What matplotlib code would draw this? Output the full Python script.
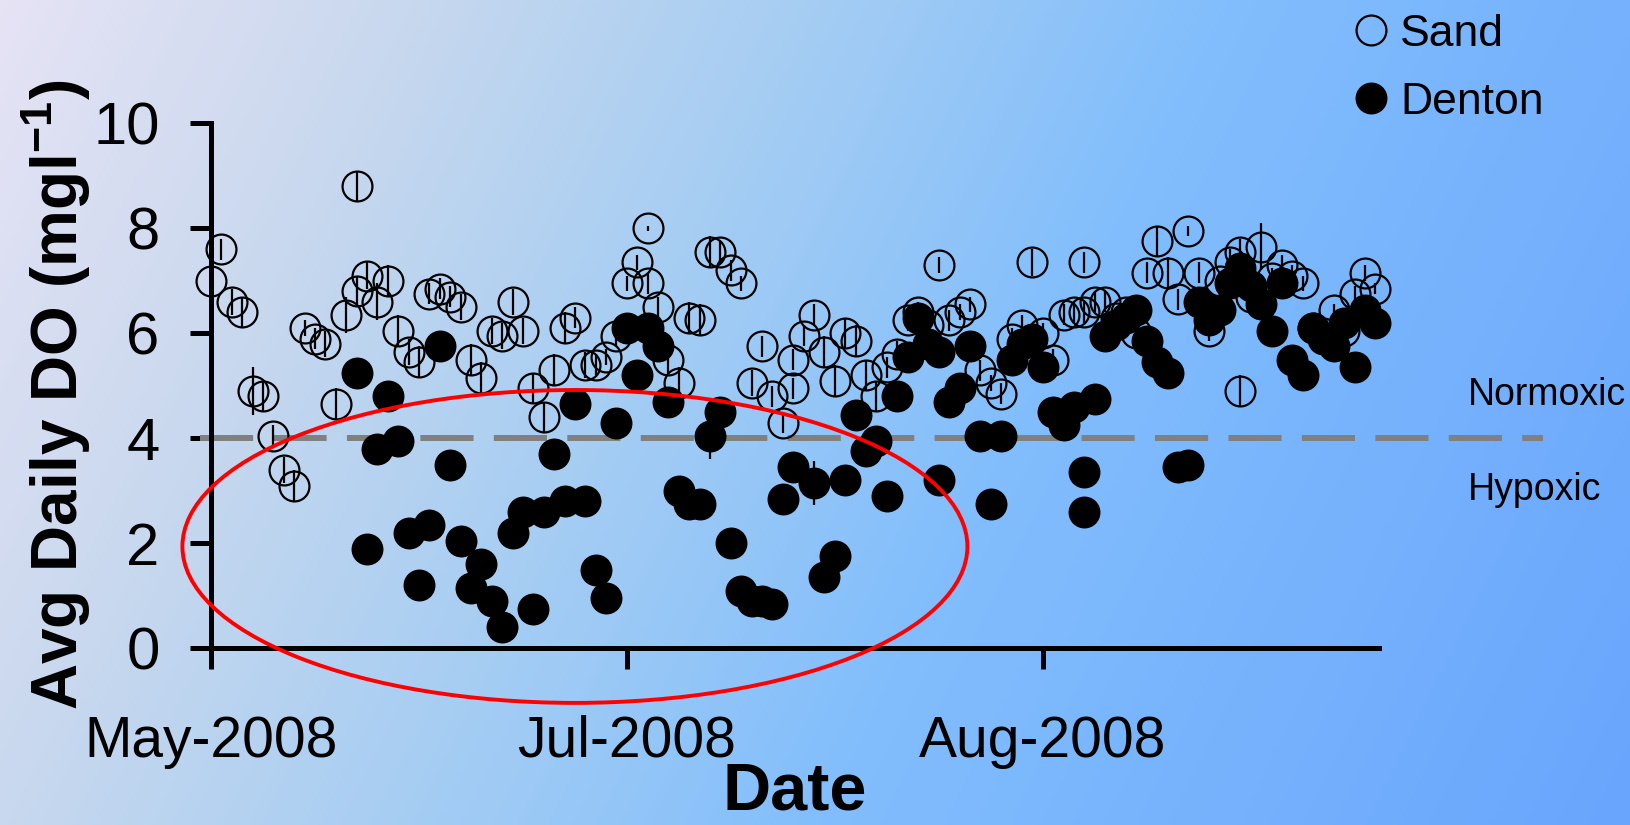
import matplotlib
matplotlib.use('Agg')
import matplotlib.pyplot as plt
import numpy as np
from matplotlib import font_manager
from matplotlib.colors import LinearSegmentedColormap
from matplotlib.patches import Ellipse

# ===== data (x = sample index, tick every 40 samples) =====
sand_x = [0, 1, 2, 3, 4, 5, 6, 7, 8, 9, 10, 11, 12, 13, 14, 14, 15, 16, 17, 18,
          19, 20, 21, 22, 23, 24, 25, 26, 27, 28, 29, 30, 31, 32, 33, 34, 35, 36, 37, 38,
          39, 40, 41, 42, 42, 43, 44, 45, 46, 47, 48, 49, 50, 51, 52, 53, 54, 55, 56, 56,
          57, 58, 59, 60, 61, 62, 63, 64, 65, 66, 67, 68, 69, 70, 71, 72, 73, 74, 75, 76,
          77, 78, 79, 80, 81, 82, 83, 84, 84, 85, 86, 87, 88, 89, 90, 91, 92, 93, 94, 95,
          96, 97, 98, 99, 99, 100, 101, 102, 103, 104, 105, 106, 107, 108, 109, 110, 111, 112]
sand_do = [7.0, 7.6, 6.6, 6.4, 4.9, 4.8, 4.05, 3.4, 3.1, 6.1, 5.9, 5.8, 4.65, 6.35, 8.8, 6.8, 7.1, 6.6, 7.0, 6.05,
           5.65, 5.45, 6.75, 6.85, 6.7, 6.5, 5.5, 5.15, 6.05, 5.95, 6.6, 6.05, 4.95, 4.4, 5.3, 6.1, 6.3, 5.4, 5.4, 5.55,
           5.95, 6.95, 7.35, 8.0, 6.95, 6.5, 5.5, 5.05, 6.3, 6.25, 7.55, 7.55, 7.2, 6.95, 5.05, 5.75, 4.8, 4.3, 5.5, 4.95,
           5.95, 6.35, 5.65, 5.1, 6.0, 5.85, 5.2, 4.8, 5.35, 5.6, 6.25, 6.4, 6.15, 7.3, 6.25, 6.4, 6.55, 5.3, 5.05, 4.85,
           5.9, 6.15, 7.35, 6.0, 5.5, 6.35, 6.4, 7.35, 6.4, 6.6, 6.6, 6.3, 6.4, 6.0, 7.15, 7.75, 7.15, 6.65, 7.95, 7.15,
           6.05, 7.0, 7.35, 7.55, 4.9, 6.7, 7.65, 7.05, 7.3, 7.1, 6.95, 6.1, 6.0, 6.45, 6.05, 6.75, 7.15, 6.85]
sand_err = [0.1, 0.2, 0.25, 0.3, 0.45, 0.3, 0.2, 0.25, 0.3, 0.15, 0.2, 0.25, 0.3, 0.35, 0.3, 0.3, 0.25, 0.35, 0.3, 0.3,
            0.25, 0.3, 0.2, 0.2, 0.2, 0.25, 0.3, 0.3, 0.25, 0.25, 0.25, 0.25, 0.3, 0.3, 0.3, 0.3, 0.2, 0.25, 0.2, 0.15,
            0.2, 0.15, 0.15, 0.05, 0.2, 0.2, 0.3, 0.3, 0.3, 0.3, 0.3, 0.2, 0.2, 0.15, 0.25, 0.2, 0.2, 0.2, 0.2, 0.2,
            0.2, 0.2, 0.3, 0.3, 0.3, 0.3, 0.3, 0.3, 0.2, 0.25, 0.2, 0.2, 0.2, 0.15, 0.2, 0.15, 0.15, 0.2, 0.15, 0.2,
            0.2, 0.2, 0.25, 0.2, 0.2, 0.2, 0.2, 0.2, 0.2, 0.2, 0.2, 0.2, 0.2, 0.2, 0.2, 0.3, 0.3, 0.2, 0.1, 0.2,
            0.2, 0.15, 0.25, 0.25, 0.3, 0.2, 0.45, 0.2, 0.2, 0.2, 0.15, 0.2, 0.2, 0.1, 0.1, 0.15, 0.15, 0.1]

denton_x = [14, 15, 16, 17, 18, 19, 20, 21, 22, 23, 24, 25, 26, 27, 28, 29, 30, 31, 32, 33,
            34, 35, 36, 37, 38, 39, 40, 41, 42, 43, 44, 45, 46, 47, 48, 49, 50, 51, 52, 53,
            54, 55, 56, 58, 59, 60, 61, 62, 63, 64, 65, 66, 67, 68, 69, 70, 70, 71, 72, 73,
            74, 75, 76, 77, 78, 79, 80, 81, 82, 83, 84, 84, 85, 86, 87, 88, 89, 90, 91, 92,
            93, 94, 95, 96, 97, 98, 99, 100, 101, 102, 103, 104, 105, 106, 107, 108, 109, 110, 111, 112]
denton_do = [5.25, 1.9, 3.8, 4.8, 3.95, 2.2, 1.2, 2.35, 5.75, 3.5, 2.05, 1.15, 1.6, 0.9, 0.4, 2.2, 2.6, 0.75, 2.6, 3.7,
             2.8, 4.65, 2.8, 1.5, 0.95, 4.3, 6.1, 5.2, 6.1, 5.75, 4.7, 3.0, 2.75, 2.75, 4.05, 4.5, 2.0, 1.1, 0.9, 0.9,
             0.85, 2.85, 3.45, 3.15, 1.35, 1.75, 3.2, 4.45, 3.75, 3.95, 2.9, 4.8, 5.55, 6.3, 5.8, 3.2, 5.65, 4.7, 4.95, 5.75,
             4.05, 2.75, 4.05, 5.5, 5.8, 5.9, 5.35, 4.5, 4.25, 4.6, 3.35, 2.6, 4.75, 5.95, 6.15, 6.3, 6.45, 5.85, 5.45, 5.25,
             3.45, 3.5, 6.6, 6.25, 6.45, 6.95, 7.25, 6.9, 6.55, 6.05, 6.95, 5.5, 5.2, 6.1, 5.9, 5.75, 6.2, 5.35, 6.45, 6.2]
denton_err = [0.2, 0.2, 0.2, 0.2, 0.2, 0.2, 0.2, 0.2, 0.2, 0.2, 0.2, 0.2, 0.2, 0.2, 0.2, 0.2, 0.2, 0.2, 0.2, 0.2,
              0.2, 0.2, 0.2, 0.2, 0.2, 0.2, 0.2, 0.2, 0.2, 0.2, 0.2, 0.2, 0.2, 0.2, 0.45, 0.2, 0.2, 0.2, 0.2, 0.2,
              0.2, 0.2, 0.2, 0.42, 0.2, 0.2, 0.2, 0.2, 0.2, 0.2, 0.2, 0.2, 0.2, 0.2, 0.2, 0.2, 0.2, 0.2, 0.2, 0.2,
              0.2, 0.2, 0.2, 0.2, 0.2, 0.2, 0.2, 0.2, 0.2, 0.2, 0.2, 0.2, 0.2, 0.2, 0.2, 0.2, 0.2, 0.2, 0.2, 0.2,
              0.2, 0.2, 0.2, 0.2, 0.2, 0.2, 0.2, 0.2, 0.2, 0.2, 0.2, 0.2, 0.2, 0.2, 0.2, 0.2, 0.2, 0.2, 0.2, 0.2]

tick_pos = [0, 40, 80]
tick_labels = ['May-2008', 'Jul-2008', 'Aug-2008']
HYPOXIA_DO = 4

# ===== fonts =====
names = {f.name for f in font_manager.fontManager.ttflist}
NARROW = 'Liberation Sans Narrow' if 'Liberation Sans Narrow' in names else 'Liberation Sans'
plt.rcParams['font.family'] = ['Liberation Sans', 'DejaVu Sans']
plt.rcParams['mathtext.fontset'] = 'custom'
plt.rcParams['mathtext.rm'] = 'Liberation Sans'
plt.rcParams['mathtext.bf'] = 'Liberation Sans:bold'

W, H = 1630, 825
fig = plt.figure(figsize=(W / 100, H / 100), dpi=100)

# background gradient
bg = fig.add_axes([0, 0, 1, 1], zorder=-10)
bg.axis('off')
cmap = LinearSegmentedColormap.from_list('bg', [
    (0.0, (230 / 255, 227 / 255, 245 / 255)),
    (0.2, (200 / 255, 216 / 255, 238 / 255)),
    (0.4, (165 / 255, 205 / 255, 243 / 255)),
    (0.6, (130 / 255, 190 / 255, 252 / 255)),
    (1.0, (105 / 255, 165 / 255, 252 / 255)),
])
gx, gy = np.meshgrid(np.linspace(0, 1, 400), np.linspace(0, 1, 200))
bg.imshow(0.8 * gx + 0.2 * gy, cmap=cmap, aspect='auto', extent=[0, 1, 1, 0], vmin=0, vmax=1)
bg.set_xlim(0, 1)
bg.set_ylim(1, 0)

ax = fig.add_axes([211 / W, (H - 648.3) / H, 1167.6 / W, 525 / H])
ax.set_facecolor('none')

ax.errorbar(sand_x, sand_do, yerr=sand_err, fmt='none', ecolor='black', elinewidth=1.6, zorder=3)
ax.plot(sand_x, sand_do, 'o', ms=21.5, mfc='none', mec='black', mew=1.6, label='Sand', zorder=3, clip_on=False)
ax.errorbar(denton_x, denton_do, yerr=denton_err, fmt='none', ecolor='black', elinewidth=1.6, zorder=4)
ax.plot(denton_x, denton_do, 'o', ms=23, mfc='black', mec='black', mew=0, label='Denton', zorder=4, clip_on=False)

ax.axhline(HYPOXIA_DO, xmin=-0.0094, xmax=1.1408, color='#808080', lw=4.3,
           linestyle=(0, (8.9, 3.4)), clip_on=False, zorder=2)
ax.add_patch(Ellipse((35.0, 1.94), 75.5, 5.96, fill=False, ec='red', lw=2.8, clip_on=False, zorder=5))

ax.set_xlim(0, 112.3)
ax.set_ylim(0, 10)
ax.set_yticks(range(0, 11, 2))
ax.set_xticks(tick_pos)
ax.set_xticklabels(tick_labels)
for s in ['top', 'right']:
    ax.spines[s].set_visible(False)
for s in ['left', 'bottom']:
    ax.spines[s].set_linewidth(3.6)
ax.tick_params(axis='both', direction='out', length=15, width=3.6, labelsize=43)
ax.tick_params(axis='x', labelsize=41)
ax.tick_params(axis='y', pad=22)
ax.tick_params(axis='x', pad=33)
for lab in ax.get_xticklabels() + ax.get_yticklabels():
    lab.set_family([NARROW, 'Liberation Sans'])

fig.text(77 / W, 1 - 395 / H, r'Avg Daily DO (mgl$^{\mathbf{-1}}$)', rotation=90, rotation_mode='anchor',
         ha='center', va='baseline', fontsize=46, fontweight='bold')
fig.text(795 / W, 15 / H, 'Date', ha='center', va='baseline', fontsize=48, fontweight='bold')

fig.text(1468 / W, 1 - 405 / H, 'Normoxic', ha='left', va='baseline', fontsize=27)
fig.text(1468 / W, 1 - 500 / H, 'Hypoxic', ha='left', va='baseline', fontsize=27)

fig.legend(loc='upper left', bbox_to_anchor=(1351 / W, 1 - 14 / H), frameon=False, fontsize=32,
           handlelength=0.9, handletextpad=0.2, labelspacing=0.6, borderpad=0.0, borderaxespad=0.0)

fig.savefig('out.png', dpi=100)
